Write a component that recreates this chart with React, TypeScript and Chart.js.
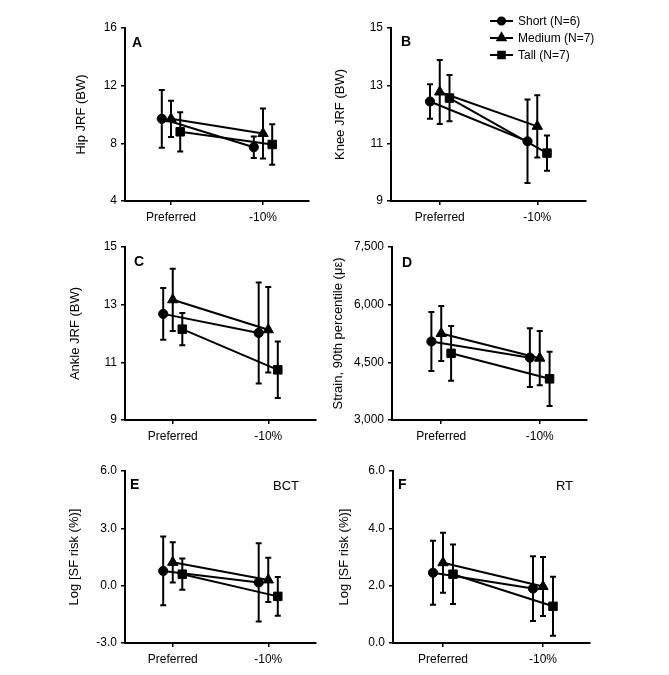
import React, { useEffect, useRef } from 'react';
import { Chart, registerables } from 'chart.js';
import { drawPoint } from 'chart.js/helpers';

Chart.register(...registerables);

// ---------- data ----------
const categories = ['Preferred', '-10%'];
const groups = ['Short (N=6)', 'Medium (N=7)', 'Tall (N=7)'];

// rows: Short, Medium, Tall ; columns: Preferred, -10%
const hipMeans = [[9.7, 7.73], [9.7, 8.68], [8.8, 7.92]];
const hipSD = [[2.0, 0.75], [1.26, 1.74], [1.36, 1.41]];
const hipTicks = [4, 8, 12, 16];
const hipTickLabels = ['4', '8', '12', '16'];

const kneeMeans = [[12.45, 11.07], [12.78, 11.59], [12.57, 10.66]];
const kneeSD = [[0.6, 1.45], [1.11, 1.08], [0.8, 0.61]];
const kneeTicks = [9, 11, 13, 15];
const kneeTickLabels = ['9', '11', '13', '15'];

const ankleMeans = [[12.68, 12.02], [13.17, 12.13], [12.15, 10.74]];
const ankleSD = [[0.9, 1.75], [1.08, 1.48], [0.56, 0.98]];
const ankleTicks = [9, 11, 13, 15];
const ankleTickLabels = ['9', '11', '13', '15'];

const strainMeans = [[5042, 4622], [5250, 4608], [4734, 4071]];
const strainSD = [[767, 763], [715, 706], [711, 706]];
const strainTicks = [3000, 4500, 6000, 7500];
const strainTickLabels = ['3,000', '4,500', '6,000', '7,500'];

const bctMeans = [[0.77, 0.17], [1.22, 0.3], [0.6, -0.56]];
const bctSD = [[1.8, 2.05], [1.05, 1.16], [0.82, 1.01]];
const bctTicks = [-3, 0, 3, 6];
const bctTickLabels = ['-3.0', '0.0', '3.0', '6.0'];

const rtMeans = [[2.45, 1.9], [2.8, 1.97], [2.4, 1.28]];
const rtSD = [[1.12, 1.13], [1.05, 1.03], [1.04, 1.03]];
const rtTicks = [0, 2, 4, 6];
const rtTickLabels = ['0.0', '2.0', '4.0', '6.0'];

// ---------- styling / layout ----------
const W = 669;
const H = 675;
const FONT = 'Arial, "Liberation Sans", Helvetica, sans-serif';
const TICK_SIZE = 12;
const TITLE_SIZE = 13;
const X_AXIS_H = 34;
const groupOffsets = [-0.1, 0, 0.1];
const markerStyles = ['circle', 'triangle', 'rect'];
const markerRadii = [4.6, 6, 6];

const panels = [
  { letter: 'A', tag: '', title: 'Hip JRF (BW)', means: hipMeans, sds: hipSD, ticks: hipTicks, tickLabels: hipTickLabels,
    area: { left: 125, right: 309, top: 28, bottom: 201 }, titleX: 81, xMax: 1.5, letterDx: 7, letterDy: 19, legend: false },
  { letter: 'B', tag: '', title: 'Knee JRF (BW)', means: kneeMeans, sds: kneeSD, ticks: kneeTicks, tickLabels: kneeTickLabels,
    area: { left: 391, right: 586, top: 28, bottom: 201 }, titleX: 340, xMax: 1.5, letterDx: 10, letterDy: 18, legend: true },
  { letter: 'C', tag: '', title: 'Ankle JRF (BW)', means: ankleMeans, sds: ankleSD, ticks: ankleTicks, tickLabels: ankleTickLabels,
    area: { left: 125, right: 316, top: 247, bottom: 420 }, titleX: 75, xMax: 1.5, letterDx: 9, letterDy: 19, legend: false },
  { letter: 'D', tag: '', title: 'Strain, 90th percentile (με)', means: strainMeans, sds: strainSD, ticks: strainTicks, tickLabels: strainTickLabels,
    area: { left: 392, right: 587, top: 247, bottom: 420 }, titleX: 338, xMax: 1.48, letterDx: 10, letterDy: 20, legend: false },
  { letter: 'E', tag: 'BCT', title: 'Log [SF risk (%)]', means: bctMeans, sds: bctSD, ticks: bctTicks, tickLabels: bctTickLabels,
    area: { left: 125, right: 316, top: 471, bottom: 643 }, titleX: 74, xMax: 1.5, letterDx: 5, letterDy: 18, legend: false },
  { letter: 'F', tag: 'RT', title: 'Log [SF risk (%)]', means: rtMeans, sds: rtSD, ticks: rtTicks, tickLabels: rtTickLabels,
    area: { left: 393, right: 590, top: 471, bottom: 643 }, titleX: 344, xMax: 1.47, letterDx: 5, letterDy: 18, legend: false },
];

// ---------- plugins ----------
const errorBarPlugin = {
  id: 'errorBars',
  beforeDatasetsDraw(chart: any) {
    const ctx = chart.ctx;
    const yScale = chart.scales.y;
    ctx.save();
    ctx.strokeStyle = '#000';
    ctx.lineWidth = 2;
    chart.data.datasets.forEach((ds: any, di: number) => {
      const meta = chart.getDatasetMeta(di);
      meta.data.forEach((pt: any, i: number) => {
        const v = ds.data[i].y;
        const e = ds.errors[i];
        const yTop = yScale.getPixelForValue(v + e);
        const yBot = yScale.getPixelForValue(v - e);
        const x = pt.x;
        const cap = 3;
        ctx.beginPath();
        ctx.moveTo(x, yTop);
        ctx.lineTo(x, yBot);
        ctx.moveTo(x - cap, yTop);
        ctx.lineTo(x + cap, yTop);
        ctx.moveTo(x - cap, yBot);
        ctx.lineTo(x + cap, yBot);
        ctx.stroke();
      });
    });
    ctx.restore();
  },
};

const panelTextPlugin = {
  id: 'panelText',
  afterDraw(chart: any, _args: any, opts: any) {
    const ctx = chart.ctx;
    const a = chart.chartArea;
    ctx.save();
    ctx.fillStyle = '#000';
    ctx.textBaseline = 'alphabetic';
    ctx.textAlign = 'left';
    ctx.font = `bold 14px ${FONT}`;
    ctx.fillText(opts.letter, a.left + opts.letterDx, a.top + opts.letterDy);
    if (opts.tag) {
      ctx.font = `13px ${FONT}`;
      ctx.textAlign = 'right';
      ctx.fillText(opts.tag, a.right - 17, a.top + 19);
    }
    if (opts.legend) {
      const ds = chart.data.datasets;
      const x0 = a.right - 96;
      const y0 = a.top - 7;
      ctx.font = `12px ${FONT}`;
      ctx.textAlign = 'left';
      ctx.textBaseline = 'middle';
      ds.forEach((d: any, i: number) => {
        const y = y0 + i * 17;
        ctx.strokeStyle = '#000';
        ctx.lineWidth = 2;
        ctx.beginPath();
        ctx.moveTo(x0, y);
        ctx.lineTo(x0 + 23, y);
        ctx.stroke();
        ctx.fillStyle = '#000';
        drawPoint(ctx, { pointStyle: d.pointStyle, radius: d.pointRadius * 0.78, borderWidth: 1, rotation: 0 } as any, x0 + 11.5, y);
        ctx.fillStyle = '#000';
        ctx.fillText(d.label, x0 + 28, y + 1);
      });
    }
    ctx.restore();
  },
};

function buildConfig(p: any): any {
  const lh = TITLE_SIZE * 1.2;
  const padLeft = p.titleX - lh / 2;
  return {
    type: 'line',
    data: {
      datasets: p.means.map((m: number[], g: number) => ({
        label: groups[g],
        data: m.map((v: number, i: number) => ({ x: i + groupOffsets[g], y: v })),
        errors: p.sds[g],
        borderColor: '#000',
        backgroundColor: '#000',
        borderWidth: 2,
        pointStyle: markerStyles[g],
        pointRadius: markerRadii[g],
        pointBorderWidth: 1,
        pointBorderColor: '#000',
        pointBackgroundColor: '#000',
        tension: 0,
        fill: false,
      })),
    },
    options: {
      responsive: false,
      animation: false,
      events: [],
      layout: {
        padding: {
          left: padLeft,
          top: p.area.top,
          right: W - p.area.right,
          bottom: H - p.area.bottom - X_AXIS_H,
        },
      },
      plugins: {
        legend: { display: false },
        tooltip: { enabled: false },
        panelText: { letter: p.letter, tag: p.tag, legend: p.legend, letterDx: p.letterDx, letterDy: p.letterDy },
      },
      scales: {
        x: {
          type: 'linear',
          min: -0.5,
          max: p.xMax,
          afterBuildTicks: (s: any) => {
            s.ticks = categories.map((_c, i) => ({ value: i }));
          },
          afterFit: (s: any) => {
            s.height = X_AXIS_H;
          },
          ticks: {
            callback: (_v: any, i: number) => categories[i],
            color: '#000',
            font: { family: FONT, size: TICK_SIZE },
            padding: 5,
            maxRotation: 0,
            autoSkip: false,
          },
          grid: { drawOnChartArea: false, drawTicks: true, tickLength: 4, color: '#000', lineWidth: 1.5 },
          border: { display: true, color: '#000', width: 2 },
        },
        y: {
          type: 'linear',
          min: p.ticks[0],
          max: p.ticks[p.ticks.length - 1],
          afterBuildTicks: (s: any) => {
            s.ticks = p.ticks.map((v: number) => ({ value: v }));
          },
          afterFit: (s: any) => {
            s.width = p.area.left - padLeft;
          },
          ticks: {
            callback: (_v: any, i: number) => p.tickLabels[i],
            color: '#000',
            font: { family: FONT, size: TICK_SIZE },
            padding: 4,
            autoSkip: false,
          },
          grid: { drawOnChartArea: false, drawTicks: true, tickLength: 4, color: '#000', lineWidth: 1.5 },
          border: { display: true, color: '#000', width: 2 },
          title: {
            display: true,
            text: p.title,
            color: '#000',
            font: { family: FONT, size: TITLE_SIZE },
            padding: 0,
          },
        },
      },
    },
    plugins: [errorBarPlugin, panelTextPlugin],
  };
}

function Panel({ p }: { p: any }) {
  const ref = useRef<HTMLCanvasElement>(null);
  useEffect(() => {
    const chart = new Chart(ref.current as HTMLCanvasElement, buildConfig(p));
    return () => chart.destroy();
  }, [p]);
  return (
    <canvas
      ref={ref}
      width={W}
      height={H}
      style={{ position: 'absolute', left: 0, top: 0, width: W, height: H }}
    />
  );
}

export default function App() {
  return (
    <div style={{ position: 'absolute', left: 0, top: 0, width: W, height: H, background: '#fff' }}>
      {panels.map((p) => (
        <Panel key={p.letter} p={p} />
      ))}
    </div>
  );
}
